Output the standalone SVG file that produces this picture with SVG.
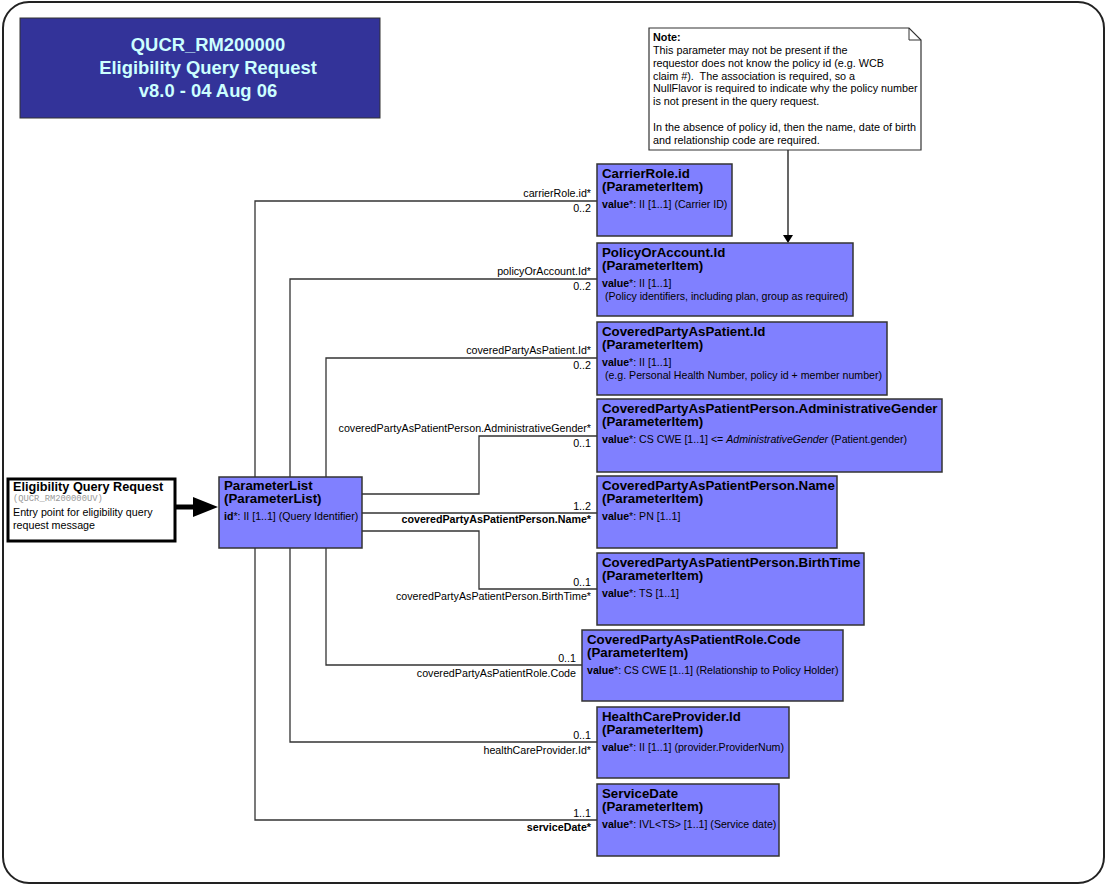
<svg xmlns="http://www.w3.org/2000/svg" width="1107" height="886" viewBox="0 0 1107 886">
<style>
text{font-family:"Liberation Sans",Arial,sans-serif;fill:#000}
.item{fill:#8080ff;stroke:#333;stroke-width:1.5}
.ttl{font-size:13.3px;font-weight:bold}
.val{font-size:10.6px}
.b{font-weight:bold}
.lbl{font-size:10.7px;text-anchor:end}
.con{fill:none;stroke:#333;stroke-width:1.3}
.note{font-size:10.8px}
.hdr{font-size:18.4px;font-weight:bold;fill:#ccffff;text-anchor:middle}
</style>
<rect x="3" y="2" width="1101" height="881" rx="26" ry="26" fill="#fff" stroke="#222" stroke-width="2"/>

<g id="title">
<rect x="20" y="18" width="360" height="100" fill="#333399" stroke="#333" stroke-width="1"/>
<text class="hdr" x="208" y="51">QUCR_RM200000</text>
<text class="hdr" x="208" y="74">Eligibility Query Request</text>
<text class="hdr" x="208" y="97">v8.0 - 04 Aug 06</text>
</g>

<g id="connectors">
<polyline class="con" points="255,477 255,201 597,201"/>
<polyline class="con" points="255,548 255,820 597,820"/>
<polyline class="con" points="290,477 290,279 597,279"/>
<polyline class="con" points="290,548 290,742 597,742"/>
<polyline class="con" points="326,477 326,358 597,358"/>
<polyline class="con" points="326,548 326,665 582,665"/>
<polyline class="con" points="362,494 479,494 479,436 597,436"/>
<polyline class="con" points="362,513 597,513"/>
<polyline class="con" points="362,531 479,531 479,589 597,589"/>
<line x1="788" y1="150" x2="788" y2="236" stroke="#000" stroke-width="1.2"/>
<polygon points="783,235 793,235 788,243" fill="#000"/>
<line x1="175" y1="507" x2="196" y2="507" stroke="#000" stroke-width="5"/>
<polygon points="193,497 218,507 193,517" fill="#000"/>
<text class="lbl" x="591" y="197">carrierRole.id*</text>
<text class="lbl" x="591" y="212">0..2</text>
<text class="lbl" x="591" y="275">policyOrAccount.Id*</text>
<text class="lbl" x="591" y="290">0..2</text>
<text class="lbl" x="591" y="354">coveredPartyAsPatient.Id*</text>
<text class="lbl" x="591" y="369">0..2</text>
<text class="lbl" x="591" y="432">coveredPartyAsPatientPerson.AdministrativeGender*</text>
<text class="lbl" x="591" y="447">0..1</text>
<text class="lbl" x="591" y="510">1..2</text>
<text class="lbl b" x="591" y="523">coveredPartyAsPatientPerson.Name*</text>
<text class="lbl" x="591" y="586">0..1</text>
<text class="lbl" x="591" y="600">coveredPartyAsPatientPerson.BirthTime*</text>
<text class="lbl" x="576" y="662">0..1</text>
<text class="lbl" x="576" y="677">coveredPartyAsPatientRole.Code</text>
<text class="lbl" x="591" y="739">0..1</text>
<text class="lbl" x="591" y="754">healthCareProvider.Id*</text>
<text class="lbl" x="591" y="817">1..1</text>
<text class="lbl b" x="591" y="831">serviceDate*</text>
</g>

<g id="note">
<polygon points="649,28 909,28 921,40 921,150 649,150" fill="#fff" stroke="#333" stroke-width="1.2"/>
<polyline points="909,28 909,40 921,40" fill="none" stroke="#333" stroke-width="1"/>
<text class="note b" x="653" y="41">Note:</text>
<text class="note" x="653" y="54">This parameter may not be present if the</text>
<text class="note" x="653" y="67">requestor does not know the policy id (e.g. WCB</text>
<text class="note" x="653" y="80" xml:space="preserve">claim #).  The association is required, so a</text>
<text class="note" x="653" y="92">NullFlavor is required to indicate why the policy number</text>
<text class="note" x="653" y="105">is not present in the query request.</text>
<text class="note" x="653" y="131">In the absence of policy id, then the name, date of birth</text>
<text class="note" x="653" y="144">and relationship code are required.</text>
</g>

<g id="entry">
<rect x="8" y="479" width="167" height="62" fill="#fff" stroke="#000" stroke-width="3"/>
<text x="13" y="491" style="font-size:12.7px;font-weight:bold">Eligibility Query Request</text>
<text x="13" y="501" style="font-family:'Liberation Mono',monospace;font-size:8.8px;fill:#999">(QUCR_RM200000UV)</text>
<text x="13" y="516" style="font-size:10.7px">Entry point for eligibility query</text>
<text x="13" y="529" style="font-size:10.7px">request message</text>
</g>

<g id="parameterList">
<rect class="item" x="219" y="477" width="143" height="71"/>
<text class="ttl" x="224" y="490">ParameterList</text>
<text class="ttl" x="224" y="503">(ParameterList)</text>
<text class="val" x="224" y="520"><tspan class="b">id</tspan>*: II [1..1] (Query Identifier)</text>
</g>

<g id="carrierRoleId">
<rect class="item" x="597" y="164" width="135" height="72"/>
<text class="ttl" x="602" y="178">CarrierRole.id</text>
<text class="ttl" x="602" y="191">(ParameterItem)</text>
<text class="val" x="602" y="208"><tspan class="b">value</tspan>*: II [1..1] (Carrier ID)</text>
</g>

<g id="policyOrAccountId">
<rect class="item" x="597" y="243" width="256" height="73"/>
<text class="ttl" x="602" y="257">PolicyOrAccount.Id</text>
<text class="ttl" x="602" y="270">(ParameterItem)</text>
<text class="val" x="602" y="287"><tspan class="b">value</tspan>*: II [1..1]</text>
<text class="val" x="602" y="300" xml:space="preserve"> (Policy identifiers, including plan, group as required)</text>
</g>

<g id="coveredPartyAsPatientId">
<rect class="item" x="597" y="322" width="290" height="73"/>
<text class="ttl" x="602" y="336">CoveredPartyAsPatient.Id</text>
<text class="ttl" x="602" y="349">(ParameterItem)</text>
<text class="val" x="602" y="366"><tspan class="b">value</tspan>*: II [1..1]</text>
<text class="val" x="602" y="379" xml:space="preserve"> (e.g. Personal Health Number, policy id + member number)</text>
</g>

<g id="administrativeGender">
<rect class="item" x="597" y="399" width="345" height="73"/>
<text class="ttl" x="602" y="413">CoveredPartyAsPatientPerson.AdministrativeGender</text>
<text class="ttl" x="602" y="426">(ParameterItem)</text>
<text class="val" x="602" y="443"><tspan class="b">value</tspan>*: CS CWE [1..1] &lt;= <tspan font-style="italic">AdministrativeGender</tspan> (Patient.gender)</text>
</g>

<g id="personName">
<rect class="item" x="597" y="476" width="240" height="72"/>
<text class="ttl" x="602" y="490">CoveredPartyAsPatientPerson.Name</text>
<text class="ttl" x="602" y="503">(ParameterItem)</text>
<text class="val" x="602" y="520"><tspan class="b">value</tspan>*: PN [1..1]</text>
</g>

<g id="personBirthTime">
<rect class="item" x="597" y="553" width="267" height="72"/>
<text class="ttl" x="602" y="567">CoveredPartyAsPatientPerson.BirthTime</text>
<text class="ttl" x="602" y="580">(ParameterItem)</text>
<text class="val" x="602" y="597"><tspan class="b">value</tspan>*: TS [1..1]</text>
</g>

<g id="patientRoleCode">
<rect class="item" x="582" y="630" width="261" height="71"/>
<text class="ttl" x="587" y="644">CoveredPartyAsPatientRole.Code</text>
<text class="ttl" x="587" y="657">(ParameterItem)</text>
<text class="val" x="587" y="674"><tspan class="b">value</tspan>*: CS CWE [1..1] (Relationship to Policy Holder)</text>
</g>

<g id="healthCareProviderId">
<rect class="item" x="597" y="707" width="192" height="71"/>
<text class="ttl" x="602" y="721">HealthCareProvider.Id</text>
<text class="ttl" x="602" y="734">(ParameterItem)</text>
<text class="val" x="602" y="751"><tspan class="b">value</tspan>*: II [1..1] (provider.ProviderNum)</text>
</g>

<g id="serviceDate">
<rect class="item" x="597" y="784" width="182" height="72"/>
<text class="ttl" x="602" y="798">ServiceDate</text>
<text class="ttl" x="602" y="811">(ParameterItem)</text>
<text class="val" x="602" y="828"><tspan class="b">value</tspan>*: IVL&lt;TS&gt; [1..1] (Service date)</text>
</g>
</svg>
